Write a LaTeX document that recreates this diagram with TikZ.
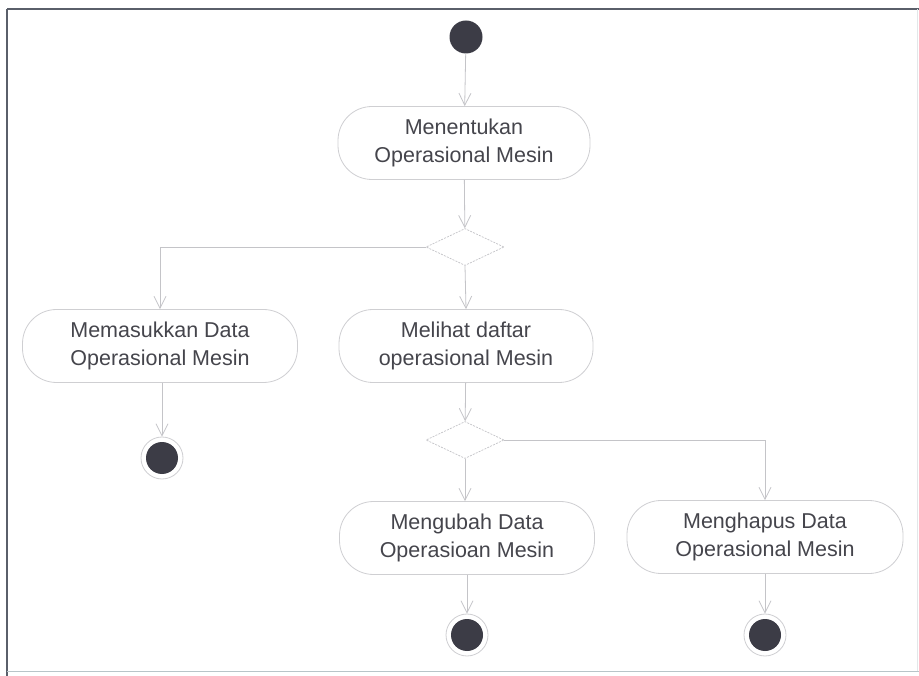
\documentclass[tikz,border=0pt]{standalone}
\usepackage{fontspec}
\setmainfont{Liberation Sans}
\usetikzlibrary{arrows.meta,shapes.geometric}

\definecolor{boxgray}{HTML}{CFCFD2}
\definecolor{linegray}{HTML}{C4C4C8}
\definecolor{txtgray}{HTML}{45454C}
\definecolor{dotcol}{HTML}{3C3C46}
\definecolor{framecol}{HTML}{5A5F6A}
\definecolor{framelight}{HTML}{B8C4C8}

\tikzset{
  act/.style={draw=boxgray, line width=0.8pt, rounded corners=34pt,
    minimum height=73pt, align=center, inner sep=0pt, text=txtgray,
    font=\fontsize{21.5}{28}\selectfont},
  decision/.style={diamond, draw=linegray, line width=0.7pt,
    dash pattern=on 2pt off 1.2pt, minimum width=78pt, minimum height=37pt,
    inner sep=0pt, aspect=2.1},
  initnode/.style={circle, fill=dotcol, minimum size=33pt, inner sep=0pt},
  finalnode/.style={circle, draw=boxgray, line width=0.8pt, fill=white,
    minimum size=42pt, inner sep=0pt,
    path picture={\fill[dotcol] (path picture bounding box.center) circle (16pt);}},
  flow/.style={draw=linegray, line width=0.8pt,
    -{Straight Barb[length=12pt,width=12pt,line width=0.8pt]}}
}

\begin{document}
\begin{tikzpicture}[x=1pt,y=-1pt]
  \useasboundingbox (0,0) rectangle (919,676);
  \fill[white] (0,0) rectangle (919,676);

  % frame
  \draw[framecol, line width=2pt] (7,9) -- (919,9);
  \draw[framecol, line width=2.2pt] (7,9) -- (7,676);
  \draw[framelight, line width=1pt] (7,671) -- (919,671);
  \draw[framelight!40, line width=0.8pt] (917,9) -- (917,671);

  % nodes
  \node[initnode] (start) at (466,37) {};
  \node[act, minimum width=252pt] (tentukan) at (464,143) {Menentukan\\Operasional Mesin};
  \node[decision] (d1) at (465,247) {};
  \node[act, minimum width=275pt] (masuk) at (160,346) {Memasukkan Data\\Operasional Mesin};
  \node[act, minimum width=254pt] (lihat) at (466,346) {Melihat daftar\\operasional Mesin};
  \node[finalnode] (end1) at (162,458) {};
  \node[decision] (d2) at (465,440) {};
  \node[act, minimum width=255pt] (ubah) at (467,538) {Mengubah Data\\Operasioan Mesin};
  \node[act, minimum width=276pt] (hapus) at (765,537) {Menghapus Data\\Operasional Mesin};
  \node[finalnode] (end2) at (467,635) {};
  \node[finalnode] (end3) at (765,635) {};

  % control flow
  \draw[flow] (start) -- (tentukan);
  \draw[flow] (tentukan) -- (d1);
  \draw[flow] (d1.west) -| (masuk.north);
  \draw[flow] (d1.south) -- (lihat.north);
  \draw[flow] (masuk.south -| end1) -- (end1);
  \draw[flow] (lihat) -- (d2);
  \draw[flow] (d2.south) -- (d2.south |- ubah.north);
  \draw[flow] (d2.east) -| (hapus.north);
  \draw[flow] (ubah) -- (end2);
  \draw[flow] (hapus) -- (end3);
\end{tikzpicture}
\end{document}
